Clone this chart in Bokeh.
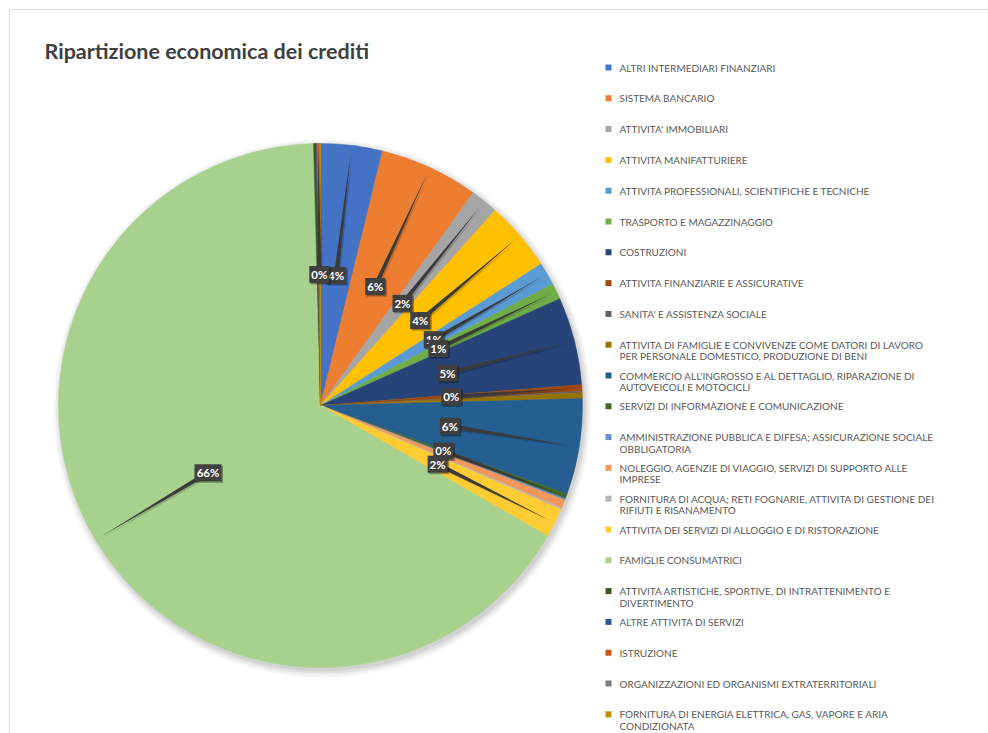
import numpy as np
from bokeh.plotting import figure
from bokeh.models import Range1d
from bokeh.embed import file_html
from bokeh.resources import INLINE
from bokeh.core.properties import value

title = "Ripartizione economica dei crediti"

categories = [
    "ALTRI INTERMEDIARI FINANZIARI",
    "SISTEMA BANCARIO",
    "ATTIVITA' IMMOBILIARI",
    "ATTIVITA MANIFATTURIERE",
    "ATTIVITA PROFESSIONALI, SCIENTIFICHE E TECNICHE",
    "TRASPORTO E MAGAZZINAGGIO",
    "COSTRUZIONI",
    "ATTIVITA FINANZIARIE E ASSICURATIVE",
    "SANITA' E ASSISTENZA SOCIALE",
    "ATTIVITA DI FAMIGLIE E CONVIVENZE COME DATORI DI LAVORO\nPER PERSONALE DOMESTICO, PRODUZIONE DI BENI",
    "COMMERCIO ALL'INGROSSO E AL DETTAGLIO, RIPARAZIONE DI\nAUTOVEICOLI E MOTOCICLI",
    "SERVIZI DI INFORMAZIONE E COMUNICAZIONE",
    "AMMINISTRAZIONE PUBBLICA E DIFESA; ASSICURAZIONE SOCIALE\nOBBLIGATORIA",
    "NOLEGGIO, AGENZIE DI VIAGGIO, SERVIZI DI SUPPORTO ALLE\nIMPRESE",
    "FORNITURA DI ACQUA; RETI FOGNARIE, ATTIVITA DI GESTIONE DEI\nRIFIUTI E RISANAMENTO",
    "ATTIVITA DEI SERVIZI DI ALLOGGIO E DI RISTORAZIONE",
    "FAMIGLIE CONSUMATRICI",
    "ATTIVITA ARTISTICHE, SPORTIVE, DI INTRATTENIMENTO E\nDIVERTIMENTO",
    "ALTRE ATTIVITA DI SERVIZI",
    "ISTRUZIONE",
    "ORGANIZZAZIONI ED ORGANISMI EXTRATERRITORIALI",
    "FORNITURA DI ENERGIA ELETTRICA, GAS, VAPORE E ARIA\nCONDIZIONATA",
]

shares = [3.8, 6.1, 1.7, 4.3, 1.4, 1.0, 5.4, 0.4, 0.1, 0.35, 5.9, 0.3,
          0.1, 0.5, 0.1, 1.8, 66.2, 0.15, 0.05, 0.15, 0.02, 0.05]

colors = ["#4472C4", "#ED7D31", "#A5A5A5", "#FFC000", "#5B9BD5", "#70AD47",
          "#264478", "#9E480E", "#636363", "#997300", "#255E91", "#43682B",
          "#698ED0", "#F1975A", "#B7B7B7", "#FFCD33", "#A9D18E", "#375623",
          "#2F5597", "#C55A11", "#7B7B7B", "#BF9000"]

# slices whose data label is shown (others hidden as in the original)
labelled = [0, 1, 2, 3, 4, 5, 6, 7, 11, 10, 15, 16, 19]

W, H = 988, 733
p = figure(width=W, height=H, x_range=Range1d(0, W), y_range=Range1d(0, H),
           output_backend="svg", toolbar_location=None, min_border=0)
p.axis.visible = False
p.grid.visible = False
p.outline_line_color = None
p.background_fill_color = "white"
p.border_fill_color = "white"

# chart frame
p.segment(x0=[9, 9], y0=[H - 9, H - 9], x1=[W, 9], y1=[H - 9, 0],
          line_color="#D9D9D9", line_width=1)

# title
p.text(x=[44], y=[H - 50], text=[title], text_font=value("Lato"),
       text_font_style="bold", text_font_size="21.5px", text_color="#404040",
       text_baseline="middle", text_align="left")

# pie
cx, cy, R = 320, H - 405, 262
vals = np.array(shares, dtype=float)
frac = vals / vals.sum()
cum = np.cumsum(frac)
start = np.pi / 2 - 2 * np.pi * (cum - frac)
end = np.pi / 2 - 2 * np.pi * cum
mid = (start + end) / 2

# soft shadow
for k, a in zip([7, 5, 3, 1], [0.03, 0.04, 0.05, 0.06]):
    p.circle(x=[cx + 2], y=[cy - 3], radius=R + k, fill_color="black",
             fill_alpha=a, line_color=None)

p.wedge(x=cx, y=cy, radius=R, start_angle=list(start), end_angle=list(end),
        direction="clock", fill_color=colors, line_color=colors, line_width=0.5)

# leader lines
lxs, lys, pxs, pys = [], [], [], []
for i in labelled:
    lx = cx + 0.5 * R * np.cos(mid[i])
    ly = cy + 0.5 * R * np.sin(mid[i])
    ex = cx + 0.975 * R * np.cos(mid[i])
    ey = cy + 0.975 * R * np.sin(mid[i])
    dx, dy = ex - lx, ey - ly
    L = np.hypot(dx, dy)
    nx, ny = -dy / L * 2.2, dx / L * 2.2
    pxs.append([lx + nx, lx - nx, ex])
    pys.append([ly + ny, ly - ny, ey])
    lxs.append(lx)
    lys.append(ly)

p.patches(xs=[[x + 1.5 for x in xs] for xs in pxs],
          ys=[[y - 1.5 for y in ys] for ys in pys],
          fill_color="black", fill_alpha=0.18, line_color=None)
p.patches(xs=pxs, ys=pys, fill_color="#3A3A3A", line_color=None)

# data labels
for j, i in enumerate(labelled):
    txt = f"{round(frac[i] * 100):.0f}%"
    w = 6 + 7 * len(txt)
    lx, ly = lxs[j], lys[j]
    p.rect(x=[lx + 1.5], y=[ly - 1.5], width=w, height=17, fill_color="black",
           fill_alpha=0.35, line_color=None)
    p.rect(x=[lx], y=[ly], width=w, height=17, fill_color="#404040",
           line_color=None)
    p.text(x=[lx], y=[ly], text=[txt], text_font=value("Lato"),
           text_font_style="bold", text_font_size="11.5px", text_color="white",
           text_align="center", text_baseline="middle")

# legend
lx0, ly0, step = 608, H - 67, 30.8
sq_x, sq_y, t_x, t_y, t_txt = [], [], [], [], []
for i, name in enumerate(categories):
    y = ly0 - step * i
    sq_x.append(lx0)
    sq_y.append(y)
    for k, line in enumerate(name.split("\n")):
        t_x.append(lx0 + 11)
        t_y.append(y - 11.5 * k)
        t_txt.append(line)
p.scatter(x=sq_x, y=sq_y, marker="square", size=6, fill_color=colors,
          line_color=None)
p.text(x=t_x, y=t_y, text=t_txt, text_font=value("Lato"),
       text_font_size="10px", text_color="#595959", text_align="left",
       text_baseline="middle")

open("out.html", "w").write(file_html(p, INLINE))
